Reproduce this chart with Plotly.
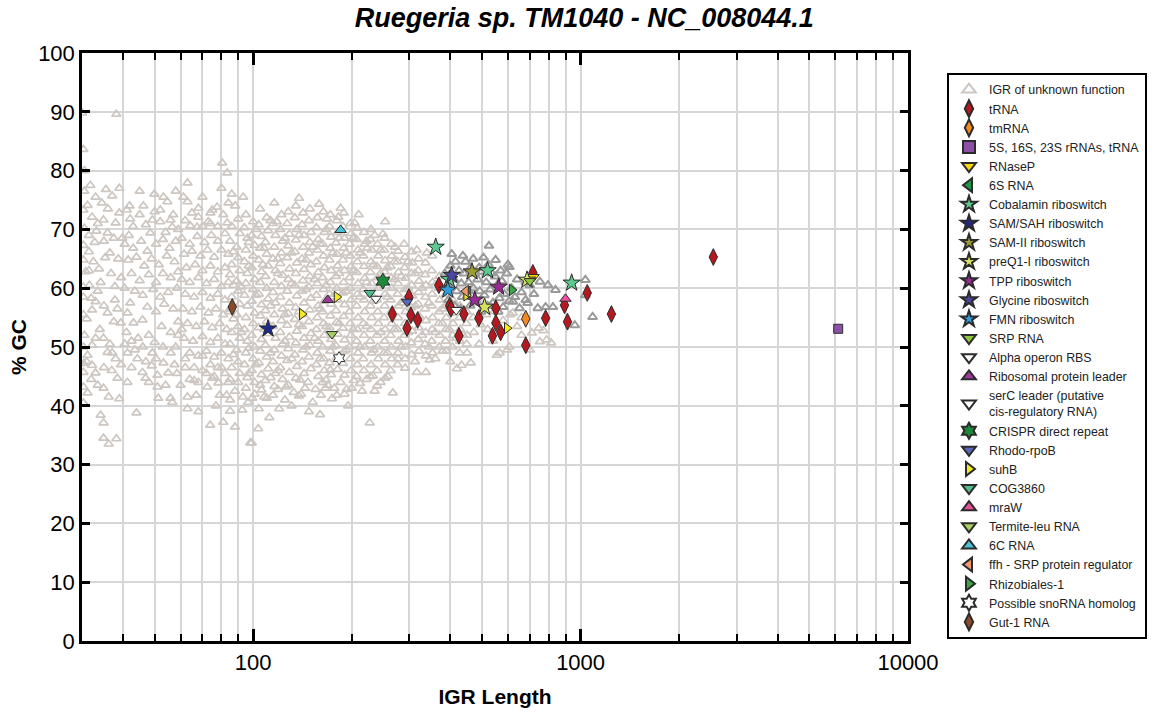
import math
import plotly.graph_objects as go

# ---------------------------------------------------------------
# IGR of unknown function (length in nt, % GC), grouped by length band
# ---------------------------------------------------------------
unknown_short = [
    (30, 89.8), (30.3, 83.6), (31.2, 74.1), (30.3, 73.3), (32.2, 72.1), (30.5, 70.2), (33.2, 69.7),
    (30.3, 67.3), (31.5, 66.2), (34.9, 71.6), (35.9, 69.4), (38, 71.1), (37.1, 75.7), (38.2, 89.6),
    (39, 77.0), (32.5, 64.5), (30.8, 62.8), (33.8, 63.3), (36.5, 66.0), (38.7, 65.0), (31.6, 60.5),
    (34.2, 61.0), (36.8, 62.5), (39.5, 61.8), (30.3, 58.5), (32, 58.3), (33, 57.7), (32.2, 56.3),
    (35.9, 55.8), (37.5, 54.3), (39.4, 54.1), (31, 54.8), (34, 53.0), (30.5, 52.0), (33, 51.5),
    (34.9, 51.5), (32.2, 50.3), (36.5, 50.5), (35.9, 49.1), (37.1, 49.0), (31.2, 48.6), (32.2, 46.9),
    (30.3, 45.7), (33, 45.6), (38.5, 44.7), (30.3, 43.2), (31.2, 42.2), (34.9, 43.0), (36.2, 41.5),
    (39, 41.2), (34.2, 38.4), (34.9, 37.1), (34.9, 34.5), (36.2, 33.5), (38.2, 34.4), (33.5, 59.5),
    (37.8, 58.0), (35, 57.0), (38.5, 56.5), (39.8, 68.5), (36, 73.5), (32.8, 67.8), (35.3, 65.2),
    (37.8, 60.3), (31.5, 63.0),
    (41.9, 74.0), (41.1, 73.3), (46.2, 74.0), (49.9, 76.0), (53.2, 75.5), (54.7, 74.7), (42.1, 71.8),
    (49.2, 71.6), (52, 71.3), (55.9, 71.6), (52, 73.3), (41.7, 69.0), (48.5, 69.4), (56.6, 70.4),
    (40.5, 67.5), (43, 66.8), (45.5, 68.0), (47.5, 66.3), (50.5, 67.5), (53, 68.3), (55.5, 66.8),
    (58, 68.0), (41.5, 64.8), (44, 65.3), (46.5, 63.8), (49, 65.0), (51.5, 64.0), (54.5, 65.5),
    (57.5, 64.5), (42.5, 62.5), (45, 61.3), (48, 62.3), (50.5, 61.0), (53, 62.5), (56, 61.8),
    (59, 62.8), (40.5, 60.0), (43.5, 59.5), (46, 58.8), (49.5, 59.8), (52, 58.5), (55, 59.3),
    (58.5, 60.0), (42.1, 57.5), (45.9, 54.6), (43.1, 54.1), (41.3, 55.8), (47.5, 56.8), (50.5, 56.0),
    (53.5, 57.3), (57, 56.5), (49.2, 49.0), (44.3, 48.0), (41.3, 49.0), (45.9, 45.7), (46.9, 44.7),
    (41.3, 44.0), (51, 45.2), (55, 45.6), (53.2, 47.3), (51, 43.2), (51.3, 41.3), (55.9, 41.3),
    (56.6, 40.6), (44, 38.8), (48, 52.0), (52.5, 53.5), (56, 52.5), (59, 54.3), (44.5, 51.5),
    (50, 50.8), (58, 50.0), (47, 47.5), (57.5, 47.0), (42.5, 46.5),
    (30.5, 76.5), (31.8, 77.5), (33, 75.5), (34.5, 74.5), (35.5, 76.8), (30.5, 80.0), (31.5, 69.0),
    (33.5, 71.0), (35, 68.0), (37.5, 68.5), (39, 72.8), (43, 70.5), (45, 72.5), (47, 70.8), (50, 73.0),
    (54, 69.5), (57, 72.5), (59, 70.0), (45, 76.5), (58, 76.5),
    (31, 47.5), (32, 44.5), (33.5, 43.5), (35, 46.5), (37, 46.0), (38, 48.0), (39.5, 47.0),
    (40.5, 50.5), (42.5, 51.0), (41, 52.5), (43.5, 49.5), (46, 50.0), (48, 44.0), (49, 46.8),
    (50.5, 48.0), (53, 50.0), (54, 43.5), (56, 49.0), (58.5, 45.5), (59, 52.0),
    (30.3, 55.5), (30.3, 60.2), (30.3, 64.8), (30.3, 50.0), (30.3, 47.2), (30.3, 40.5),
]

unknown_mid_short = [
    (63, 77.9), (61.2, 75.5), (63, 74.7), (64.3, 70.6), (67.4, 70.4), (68, 73.6), (68, 72.1),
    (72.9, 71.3), (75, 73.3), (74, 72.8), (77.6, 73.8), (80.4, 81.3), (83.3, 79.6), (83.3, 71.1),
    (63, 41.5), (67, 41.8), (73.9, 36.7), (81, 37.2), (72.4, 43.2), (78.3, 43.9), (75, 44.7),
    (79, 41.8), (83, 41.8),
    (60.5, 68.5), (64, 67.5), (67.5, 68.8), (71, 67.8), (74.5, 69.0), (78, 68.0), (82, 69.3),
    (61.5, 65.8), (65, 66.3), (69, 65.5), (72.5, 66.5), (76, 65.3), (80, 66.5), (84, 65.8),
    (62.5, 63.5), (66.5, 64.0), (70, 63.0), (74, 63.8), (78, 62.8), (82, 63.5), (60.5, 61.5),
    (64, 61.0), (68, 61.8), (72, 60.8), (76, 61.5), (80, 60.3), (84, 61.0), (62, 59.0), (66, 58.5),
    (70, 59.3), (74, 58.3), (78, 59.0), (82, 58.0), (61, 56.5), (65, 56.0), (69, 56.8), (73, 55.8),
    (77, 56.5), (81, 55.5), (84.5, 56.0), (63, 54.0), (67, 53.5), (71, 54.3), (75, 53.3), (79, 54.0),
    (83, 53.0), (61.5, 51.5), (65.5, 51.0), (70, 51.8), (74, 50.8), (78, 51.5), (82, 50.5),
    (64, 49.0), (68, 48.5), (72, 49.3), (76, 48.3), (80, 49.0), (84, 48.0), (62, 46.5), (70, 46.0),
    (78, 46.5), (66, 44.3), (74, 47.0), (82, 45.5), (60.5, 53.0),
    (62, 71.5), (65, 72.8), (70, 70.5), (74, 71.0), (78, 70.5), (81, 72.5), (84, 74.5), (86, 76.0),
    (80, 77.0), (70, 75.5), (60, 43.5), (62, 48.0), (64, 44.5), (66, 46.5), (68, 44.0), (70, 48.5),
    (72, 45.5), (76, 45.0), (80, 46.5), (84, 44.0), (63, 39.5), (68, 39.0), (77, 40.0), (85, 41.0),
]

unknown_core = [
    (88.1, 74.0), (93.2, 75.5), (85, 39.1), (88, 36.4), (92.6, 39.3), (98, 33.7), (103.6, 36.1),
    (99.3, 41.3), (96.5, 40.6), (110, 41.3), (106, 42.7), (115, 41.8), (99, 33.7), (125, 41.0),
    (131, 40.0), (138, 41.7), (144, 43.0), (139, 44.4), (118, 71.3), (138, 75.3),
    (86, 70.5), (85, 68.0), (87, 66.2), (86, 64.0), (85, 62.3), (87, 60.5), (86, 58.5), (85, 56.5),
    (87, 54.8), (86, 52.5), (85, 50.5), (87, 48.7), (86, 46.5), (85, 44.5),
    (90, 71.8), (91, 69.3), (89, 67.0), (90, 65.2), (91, 63.0), (89, 61.2), (90, 59.5), (91, 57.3),
    (89, 55.5), (90, 53.5), (91, 51.5), (89, 49.5), (90, 47.5), (91, 45.5),
    (95, 72.5), (94, 70.3), (96, 68.5), (95, 66.5), (94, 64.5), (96, 62.5), (95, 60.8), (94, 58.8),
    (96, 57.0), (95, 55.0), (94, 53.0), (96, 51.0), (95, 49.0), (94, 47.0), (96, 44.8), (95, 43.0),
    (100, 71.3), (99, 69.0), (101, 67.3), (100, 65.5), (99, 63.5), (101, 61.5), (100, 59.8),
    (99, 57.8), (101, 55.8), (100, 54.0), (99, 52.0), (101, 50.0), (100, 48.0), (99, 46.0), (101, 44.0),
    (105, 73.5), (104, 70.8), (106, 68.8), (105, 66.8), (104, 64.8), (106, 62.8), (105, 61.0),
    (104, 59.0), (106, 57.2), (105, 55.3), (104, 53.3), (106, 51.3), (105, 49.3), (104, 47.3),
    (106, 45.3), (105, 43.5),
    (110, 72.0), (111, 69.8), (109, 67.8), (110, 65.8), (111, 63.8), (109, 62.0), (110, 60.0),
    (111, 58.2), (109, 56.2), (110, 54.3), (111, 52.3), (109, 50.3), (110, 48.3), (111, 46.3), (109, 44.3),
    (116, 74.5), (115, 71.0), (117, 69.0), (116, 67.0), (115, 65.0), (117, 63.0), (116, 61.0),
    (115, 59.3), (117, 57.5), (116, 55.5), (115, 53.5), (117, 51.5), (116, 49.5), (115, 47.5),
    (117, 45.5), (116, 43.3),
    (122, 72.5), (121, 70.0), (123, 68.0), (122, 66.0), (121, 64.2), (123, 62.2), (122, 60.3),
    (121, 58.5), (123, 56.5), (122, 54.5), (121, 52.5), (123, 50.5), (122, 48.5), (121, 46.5), (123, 44.5),
    (128, 73.0), (127, 71.0), (129, 69.2), (128, 67.2), (127, 65.2), (129, 63.3), (128, 61.5),
    (127, 59.5), (129, 57.5), (128, 55.7), (127, 53.7), (129, 51.7), (128, 49.7), (127, 47.7),
    (129, 45.7), (128, 43.5),
    (135, 74.0), (134, 72.0), (136, 70.0), (135, 68.2), (134, 66.2), (136, 64.3), (135, 62.5),
    (134, 60.5), (136, 58.7), (135, 56.7), (134, 54.7), (136, 52.7), (135, 50.7), (134, 48.7),
    (136, 46.7), (135, 44.7),
    (142, 72.8), (141, 70.8), (143, 69.0), (142, 67.0), (141, 65.0), (143, 63.2), (142, 61.3),
    (141, 59.5), (143, 57.5), (142, 55.5), (141, 53.5), (143, 51.5), (142, 49.5), (141, 47.5), (143, 45.5),
    (149, 73.5), (148, 71.5), (150, 69.5), (149, 67.8), (148, 66.0), (150, 64.0), (149, 62.0),
    (148, 60.2), (150, 58.3), (149, 56.3), (148, 54.3), (150, 52.3), (149, 50.3), (148, 48.3), (150, 46.3),
    (92, 60.2), (97, 63.8), (102, 58.8), (107, 64.0), (113, 57.0), (119, 62.5), (125, 55.5),
    (131, 60.8), (138, 53.8), (145, 59.8), (92, 52.5), (97, 49.8), (102, 47.0), (108, 53.0),
    (113, 49.0), (119, 46.0), (125, 51.0), (131, 48.0), (138, 56.0), (145, 50.0), (97, 67.8),
    (102, 70.0), (108, 66.8), (113, 71.5), (119, 65.0), (125, 68.5), (131, 66.0), (138, 69.0),
    (145, 64.8), (152, 67.0),
    (101, 42.0), (108, 41.5), (113, 44.8), (119, 42.8), (126, 43.2), (133, 42.3), (140, 42.0),
    (147, 44.0), (120, 39.5), (148, 39.0), (88, 42.5), (93, 41.5), (104, 39.5), (112, 38.0),
    (90, 44.0), (97, 45.5),
]

unknown_mid = [
    (159, 74.3), (185, 73.6), (168, 71.8), (182, 72.1), (204, 71.1), (253, 71.3), (235, 69.0),
    (249, 69.2), (210, 72.5), (152, 40.6), (174, 41.2), (180, 41.8), (166, 43.0), (167, 44.4),
    (172, 46.1), (227, 37.1), (239, 43.4), (253, 44.7), (232, 45.1), (267, 42.2), (200, 43.0),
    (215, 42.5), (190, 42.0),
    (157, 72.0), (156, 70.3), (158, 68.3), (157, 66.5), (156, 64.5), (158, 62.7), (157, 60.8),
    (156, 58.8), (158, 57.0), (157, 55.0), (156, 53.0), (158, 51.0), (157, 49.0), (156, 47.0), (158, 45.0),
    (164, 73.0), (165, 69.5), (163, 67.5), (164, 65.5), (165, 63.5), (163, 61.8), (164, 59.8),
    (165, 57.8), (163, 56.0), (164, 54.0), (165, 52.0), (163, 50.0), (164, 48.0), (165, 46.0), (163, 44.0),
    (172, 72.5), (171, 70.5), (173, 68.7), (172, 66.8), (171, 64.8), (173, 63.0), (172, 61.0),
    (171, 59.0), (173, 57.3), (172, 55.3), (171, 53.3), (173, 51.3), (172, 49.3), (171, 47.3), (173, 45.3),
    (180, 71.5), (181, 69.5), (179, 67.7), (180, 65.8), (181, 63.8), (179, 62.0), (180, 60.0),
    (181, 58.0), (179, 56.2), (180, 54.2), (181, 52.2), (179, 50.2), (180, 48.2), (181, 46.2),
    (189, 72.8), (188, 70.5), (190, 68.5), (189, 66.8), (188, 64.8), (190, 63.0), (189, 61.0),
    (188, 59.2), (190, 57.2), (189, 55.2), (188, 53.2), (190, 51.2), (189, 49.2), (188, 47.2), (190, 45.2),
    (198, 71.0), (199, 69.3), (197, 67.5), (198, 65.5), (199, 63.7), (197, 61.8), (198, 60.0),
    (199, 58.0), (197, 56.0), (198, 54.0), (199, 52.0), (197, 50.0), (198, 48.0), (199, 46.0),
    (208, 70.2), (207, 68.3), (209, 66.5), (208, 64.5), (207, 62.7), (209, 60.8), (208, 59.0),
    (207, 57.0), (209, 55.0), (208, 53.0), (207, 51.0), (209, 49.0), (208, 47.0), (207, 45.0),
    (218, 69.5), (219, 67.5), (217, 65.5), (218, 63.7), (219, 61.7), (217, 59.8), (218, 58.0),
    (219, 56.0), (217, 54.0), (218, 52.0), (219, 50.0), (217, 48.0), (218, 46.0),
    (229, 70.0), (228, 68.3), (230, 66.5), (229, 64.5), (228, 62.7), (230, 60.8), (229, 59.0),
    (228, 57.0), (230, 55.0), (229, 53.0), (228, 51.0), (230, 49.0), (229, 47.0), (228, 45.0),
    (240, 67.5), (241, 65.5), (239, 63.7), (240, 61.8), (241, 60.0), (239, 58.0), (240, 56.0),
    (241, 54.0), (239, 52.0), (240, 50.0), (241, 48.0), (239, 46.0),
    (252, 68.5), (251, 66.5), (253, 64.7), (252, 62.8), (251, 61.0), (253, 59.0), (252, 57.0),
    (251, 55.0), (253, 53.0), (252, 51.0), (251, 49.0), (253, 47.0),
    (154, 61.5), (160, 56.5), (167, 60.5), (175, 58.5), (183, 62.5), (192, 59.5), (202, 63.0),
    (212, 58.5), (222, 61.0), (233, 57.8), (245, 62.5), (257, 58.5),
    (154, 51.5), (160, 48.0), (167, 53.5), (175, 50.0), (183, 54.0), (192, 49.5), (202, 53.0),
    (212, 50.0), (222, 53.5), (233, 49.5), (245, 52.5), (257, 49.0),
    (160, 67.5), (167, 70.0), (175, 66.0), (183, 68.5), (192, 66.0), (202, 68.5), (212, 66.0),
    (222, 68.0), (233, 64.0), (245, 66.5), (257, 63.5),
    (155, 42.8), (161, 41.8), (169, 43.5), (177, 43.0), (185, 44.0), (193, 42.8), (203, 44.3),
    (212, 43.8), (222, 44.5), (235, 42.5), (245, 44.0), (258, 45.0), (195, 40.0), (160, 38.5),
]

unknown_long = [
    (289, 67.5), (316, 66.5), (339, 66.0), (271, 67.0), (223, 66.8), (277, 48.0), (291, 46.4),
    (316, 45.7), (337, 45.7), (346, 47.8), (379, 49.3), (419, 46.3), (433, 46.9),
    (264, 67.5), (265, 65.5), (263, 63.7), (264, 61.8), (265, 60.0), (263, 58.0), (264, 56.0),
    (265, 54.0), (263, 52.0), (264, 50.0), (265, 48.0), (263, 46.0),
    (277, 66.3), (276, 64.5), (278, 62.7), (277, 60.8), (276, 59.0), (278, 57.0), (277, 55.0),
    (276, 53.0), (278, 51.0), (277, 49.0), (276, 47.0),
    (291, 65.3), (290, 63.5), (292, 61.7), (291, 59.8), (290, 58.0), (292, 56.0), (291, 54.0),
    (290, 52.0), (292, 50.0), (291, 48.0),
    (305, 66.2), (306, 64.3), (304, 62.5), (305, 60.5), (306, 58.7), (304, 56.7), (305, 54.7),
    (306, 52.7), (304, 50.7), (305, 48.7),
    (320, 65.0), (319, 63.0), (321, 61.2), (320, 59.3), (319, 57.3), (321, 55.3), (320, 53.3),
    (319, 51.3), (321, 49.3),
    (336, 64.3), (335, 62.3), (337, 60.5), (336, 58.5), (335, 56.5), (337, 54.5), (336, 52.5),
    (335, 50.5), (337, 48.5),
    (352, 65.5), (351, 63.0), (353, 61.0), (352, 59.0), (351, 57.0), (353, 55.0), (352, 53.0),
    (351, 51.0), (353, 49.0),
    (370, 62.0), (369, 60.0), (371, 58.0), (370, 56.0), (369, 54.0), (371, 52.0), (370, 50.0),
    (388, 59.0), (387, 57.0), (389, 55.0), (388, 53.0), (387, 51.0), (389, 49.3),
    (407, 58.0), (406, 55.8), (408, 54.0), (407, 52.0), (406, 50.0),
    (428, 57.0), (427, 55.0), (429, 53.0), (428, 51.0), (427, 49.0),
    (449, 56.0), (448, 54.0), (450, 52.0), (449, 50.5),
    (270, 61.5), (283, 57.5), (297, 60.0), (270, 53.0), (283, 50.0), (297, 52.5), (270, 64.5),
    (283, 62.0), (297, 64.5), (312, 62.5), (313, 57.0), (328, 60.0), (344, 57.5), (360, 60.5),
    (378, 56.5), (397, 53.0), (417, 51.5), (438, 52.0), (328, 52.0), (344, 50.0), (360, 52.5),
    (378, 54.0), (397, 57.5), (417, 57.0), (312, 47.5), (360, 48.0), (400, 47.5),
    (470, 55.0), (472, 52.5), (490, 50.5), (495, 53.8), (515, 55.5), (520, 53.0), (540, 51.0),
    (545, 56.0), (566, 49.0), (555, 48.6), (596, 49.5), (606, 50.0), (610, 55.5), (621, 55.8),
    (640, 53.5), (660, 52.0), (700, 49.5), (710, 52.4), (751, 50.9), (745, 53.2), (787, 51.2),
    (813, 50.7), (770, 52.8), (485, 57.5), (530, 57.0), (580, 54.5), (660, 55.0), (462, 47.3),
    (450, 49.0),
]

# IGRs drawn in darker grey (not listed in the legend)
unknown_dark = [
    (525, 67.2), (404, 65.8), (437, 65.5), (606, 63.6), (751, 61.1), (795, 60.5), (838, 59.7),
    (1034, 61.4), (1034, 58.8), (1088, 55.1), (960, 53.7), (740, 56.6), (782, 56.8), (823, 56.8),
    (689, 57.5), (651, 56.6), (621, 57.7), (680, 58.0),
    (385, 62.5), (392, 60.5), (400, 63.8), (410, 61.5), (418, 59.5), (425, 63.0), (432, 60.8),
    (440, 62.5), (448, 58.5), (455, 61.0), (462, 63.5), (470, 60.0), (478, 58.0), (485, 61.5),
    (492, 59.5), (500, 62.8), (508, 58.8), (515, 61.0), (523, 64.0), (530, 59.8), (540, 57.5),
    (548, 62.0), (556, 60.5), (565, 58.3), (575, 61.2), (585, 59.0), (595, 62.5), (605, 57.8),
    (615, 60.0), (630, 58.5), (640, 61.5), (660, 59.3), (378, 60.0), (395, 58.0), (412, 57.0),
    (430, 56.5), (445, 64.5), (460, 57.0), (475, 62.5), (497, 56.0), (520, 57.0), (560, 56.0),
    (580, 56.8), (700, 60.5), (720, 59.0), (680, 61.0), (470, 65.0), (550, 64.8), (415, 64.5),
    (505, 65.2), (435, 58.5), (455, 59.5), (490, 63.5), (535, 62.5), (570, 63.0), (600, 64.0),
]

# ---------------------------------------------------------------
# Annotated IGRs: (length, % GC) per RNA class
# ---------------------------------------------------------------
trna_len = [266, 295, 299, 303, 318, 369, 398, 402, 425, 440, 489, 538, 551, 551, 570, 680, 715, 782, 893, 912, 1048, 1242, 2543]
trna_gc = [55.6, 53.2, 58.5, 55.4, 54.6, 60.5, 57.0, 56.5, 51.9, 55.6, 54.9, 51.9, 56.6, 54.1, 52.5, 50.3, 62.6, 54.9, 57.1, 54.3, 59.2, 55.6, 65.3]
tmrna_len, tmrna_gc = [680], [54.8]
rrna_len, rrna_gc = [6121], [53.1]
rnasep_len, rnasep_gc = [718], [61.9]
rna6s_len, rna6s_gc = [452], [59.4]
cobalamin_len, cobalamin_gc = [397, 361, 520, 939], [61.5, 67.0, 63.0, 60.9]
samsah_len, samsah_gc = [111], [53.1]
sam2_len, sam2_gc = [466], [62.8]
preq1_len, preq1_gc = [509, 686], [56.8, 61.4]
tpp_len, tpp_gc = [562, 475], [60.2, 58.0]
glycine_len, glycine_gc = [404], [62.2]
fmn_len, fmn_gc = [393], [59.7]
srp_len, srp_gc = [700], [61.2]
alpha_len, alpha_gc = [417], [56.3]
ribo_len, ribo_gc = [169], [58.0]
serc_len, serc_gc = [237], [58.2]
crispr_len, crispr_gc = [249], [61.2]
rpob_len, rpob_gc = [295], [57.7]
suhb_len, suhb_gc = [141, 180, 596, 448], [55.6, 58.5, 53.2, 58.8]
cog_len, cog_gc = [227], [59.2]
mraw_len, mraw_gc = [899], [58.2]
termite_len, termite_gc = [174], [52.2]
c6_len, c6_gc = [185], [69.9]
ffh_len, ffh_gc = [446], [59.5]
rhizo_len, rhizo_gc = [617], [59.7]
sno_len, sno_gc = [183], [48.1]
gut1_len, gut1_gc = [86.3], [56.8]

major_x_ticks = [100, 1000, 10000]
major_x_labels = ["100", "1000", "10000"]
minor_x_ticks = [40, 50, 60, 70, 80, 90, 200, 300, 400, 500, 600, 700, 800, 900,
                 2000, 3000, 4000, 5000, 6000, 7000, 8000, 9000]
y_ticks = list(range(0, 101, 10))

FONT = "Liberation Sans, Arial, sans-serif"
EDGE = "#2b2b2b"

fig = go.Figure()

unknown_all = unknown_short + unknown_mid_short + unknown_core + unknown_mid + unknown_long
fig.add_trace(go.Scatter(
    x=[p[0] for p in unknown_all], y=[p[1] for p in unknown_all],
    mode="markers", name="IGR of unknown function",
    marker=dict(symbol="triangle-up-open", size=8, color="#cdc6c1", line=dict(width=1.7, color="#cdc6c1")),
))
fig.add_trace(go.Scatter(
    x=[p[0] for p in unknown_dark], y=[p[1] for p in unknown_dark],
    mode="markers", showlegend=False, hoverinfo="skip",
    marker=dict(symbol="triangle-up-open", size=8, color="#9a9a9a", line=dict(width=2, color="#9a9a9a")),
))

# name, lengths, gc, symbol, fill, size
classes = [
    ("tRNA", trna_len, trna_gc, "diamond-tall", "#b5181e", 12),
    ("tmRNA", tmrna_len, tmrna_gc, "diamond-tall", "#f5891f", 12),
    ("5S, 16S, 23S rRNAs, tRNA", rrna_len, rrna_gc, "square", "#8e4fa8", 9),
    ("RNaseP", rnasep_len, rnasep_gc, "triangle-down", "#ffd400", 10),
    ("6S RNA", rna6s_len, rna6s_gc, "triangle-left", "#1a9a46", 10),
    ("Cobalamin riboswitch", cobalamin_len, cobalamin_gc, "star", "#5cc98f", 13),
    ("SAM/SAH riboswitch", samsah_len, samsah_gc, "star", "#1c2a8c", 13),
    ("SAM-II riboswitch", sam2_len, sam2_gc, "star", "#9c9a30", 13),
    ("preQ1-I riboswitch", preq1_len, preq1_gc, "star", "#d7e35e", 13),
    ("TPP riboswitch", tpp_len, tpp_gc, "star", "#9a2a96", 13),
    ("Glycine riboswitch", glycine_len, glycine_gc, "star", "#4a48a2", 13),
    ("FMN riboswitch", fmn_len, fmn_gc, "star", "#2f9ede", 13),
    ("SRP RNA", srp_len, srp_gc, "triangle-down", "#8ec63f", 10),
    ("Alpha operon RBS", alpha_len, alpha_gc, "triangle-down", "#ffffff", 10),
    ("Ribosomal protein leader", ribo_len, ribo_gc, "triangle-up", "#a0399e", 10),
    ("serC leader (putative<br>cis-regulatory RNA)", serc_len, serc_gc, "triangle-down", "#ffffff", 10),
    ("CRISPR direct repeat", crispr_len, crispr_gc, "hexagram", "#1d8a3b", 12),
    ("Rhodo-rpoB", rpob_len, rpob_gc, "triangle-down", "#5a67b8", 10),
    ("suhB", suhb_len, suhb_gc, "triangle-right", "#f4ea1c", 10),
    ("COG3860", cog_len, cog_gc, "triangle-down", "#52bb8c", 10),
    ("mraW", mraw_len, mraw_gc, "triangle-up", "#ea4f9b", 10),
    ("Termite-leu RNA", termite_len, termite_gc, "triangle-down", "#a6cf62", 10),
    ("6C RNA", c6_len, c6_gc, "triangle-up", "#4ac2d6", 10),
    ("ffh - SRP protein regulator", ffh_len, ffh_gc, "triangle-left", "#f29a6e", 10),
    ("Rhizobiales-1", rhizo_len, rhizo_gc, "triangle-right", "#3aa64a", 10),
    ("Possible snoRNA homolog", sno_len, sno_gc, "hexagram", "#ffffff", 10),
    ("Gut-1 RNA", gut1_len, gut1_gc, "diamond-tall", "#8b4a2a", 12),
]

for name, xs, ys, sym, fill, size in classes:
    fig.add_trace(go.Scatter(
        x=xs, y=ys, mode="markers", name=name,
        marker=dict(symbol=sym, size=size, color=fill, line=dict(width=1, color=EDGE)),
    ))

grid_col = "#d6d6d6"
fig.update_xaxes(
    type="log", range=[math.log10(30), 4],
    tickvals=major_x_ticks, ticktext=major_x_labels,
    ticks="inside", ticklen=12, tickwidth=2.5, tickcolor="black",
    showline=True, linewidth=2.5, linecolor="black", mirror="ticks",
    showgrid=True, gridcolor=grid_col, gridwidth=1.8, zeroline=False,
    tickfont=dict(family=FONT, size=22, color="black"),
    minor=dict(tickvals=minor_x_ticks, ticks="inside", ticklen=7, tickwidth=2, tickcolor="black",
               showgrid=True, gridcolor=grid_col, gridwidth=1.8),
    title=dict(text="<b>IGR Length</b>", font=dict(family=FONT, size=21, color="black"), standoff=16),
)
fig.update_yaxes(
    range=[0, 100], tickvals=y_ticks,
    ticks="inside", ticklen=8, tickwidth=2.5, tickcolor="black",
    showline=True, linewidth=2.5, linecolor="black", mirror="ticks",
    showgrid=True, gridcolor=grid_col, gridwidth=1.8, zeroline=False,
    tickfont=dict(family=FONT, size=22, color="black"),
    title=dict(text="<b>% GC</b>", font=dict(family=FONT, size=21, color="black"), standoff=6),
)

fig.update_layout(
    width=1157, height=717,
    margin=dict(l=82, r=249, t=53, b=76, autoexpand=False),
    paper_bgcolor="white", plot_bgcolor="white",
    title=dict(text="<b><i>Ruegeria sp. TM1040 - NC_008044.1</i></b>",
               font=dict(family=FONT, size=27, color="black"),
               x=0.505, xref="container", xanchor="center", y=0.975, yref="container", yanchor="middle"),
    legend=dict(x=1.0472, y=0.966, xanchor="left", yanchor="top",
                bordercolor="black", borderwidth=2, bgcolor="white",
                font=dict(family=FONT, size=12.4, color="#222222"),
                itemsizing="constant", tracegroupgap=0),
    showlegend=True,
)

fig.write_html("out.html")
